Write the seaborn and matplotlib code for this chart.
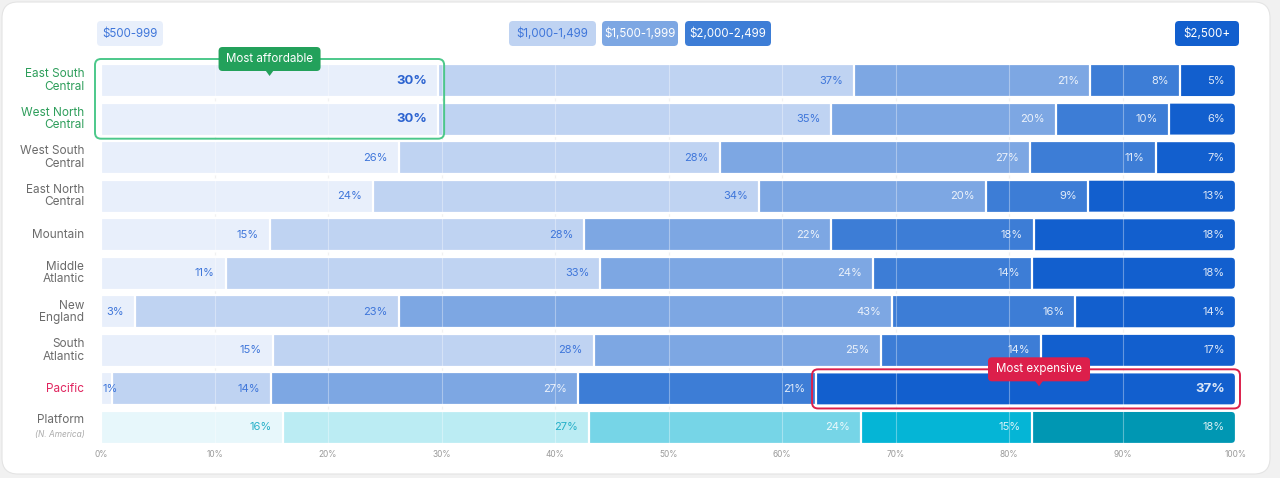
import numpy as np
import pandas as pd
import matplotlib.pyplot as plt
import seaborn as sns
from matplotlib.patches import FancyBboxPatch, Polygon
from matplotlib.transforms import IdentityTransform

sns.set_theme(style="white")
plt.rcParams['font.family'] = ['Inter', 'DejaVu Sans']

# ===== DATA =====
regions = ["East South\nCentral", "West North\nCentral", "West South\nCentral",
           "East North\nCentral", "Mountain", "Middle\nAtlantic", "New\nEngland",
           "South\nAtlantic", "Pacific", "Platform"]
brackets = ["$500-999", "$1,000-1,499", "$1,500-1,999", "$2,000-2,499", "$2,500+"]
share_500 = [30, 30, 26, 24, 15, 11, 3, 15, 1, 16]
share_1000 = [37, 35, 28, 34, 28, 33, 23, 28, 14, 27]
share_1500 = [21, 20, 27, 20, 22, 24, 43, 25, 27, 24]
share_2000 = [8, 10, 11, 9, 18, 14, 16, 14, 21, 15]
share_2500 = [5, 6, 7, 13, 18, 18, 14, 17, 37, 18]
x_ticks = [0, 10, 20, 30, 40, 50, 60, 70, 80, 90, 100]

# ===== STYLE =====
W, H = 1280, 478
blues = ["#E8EFFB", "#BFD3F2", "#7DA7E3", "#3D7DD6", "#125FCE"]
teals = ["#E7F7FB", "#BBECF3", "#76D5E7", "#05B5D6", "#0097B3"]
green_edge, green, red = "#4CC88A", "#23A15B", "#DC1F4B"

df = pd.DataFrame({"region": regions, "s0": share_500, "s1": share_1000,
                   "s2": share_1500, "s3": share_2000, "s4": share_2500})
cols = ["s0", "s1", "s2", "s3", "s4"]
norm = df[cols].div(df[cols].sum(axis=1), axis=0) * 100
cum = norm.cumsum(axis=1)
for k, c in enumerate(cols):
    df["c%d" % k] = cum[c]

fig = plt.figure(figsize=(W / 100, H / 100), dpi=100)
fig.patch.set_facecolor("#F1F1F1")
card = FancyBboxPatch((2, 4), 1268, 472, boxstyle="round,pad=0,rounding_size=16",
                      transform=IdentityTransform(), facecolor="white",
                      edgecolor="#E4E4E4", linewidth=0.8, zorder=-1)
fig.patches.append(card)

ax_h = 380
ax = fig.add_axes([101 / W, 34 / H, 1135 / W, ax_h / H])
ax.set_facecolor("none")

# background grid (visible in the gaps)
for xv in x_ticks[1:-1]:
    ax.axvline(xv, color="#EBEBEB", lw=0.8, zorder=0)

# stacked bars: draw cumulative layers from the outermost inward
for k in reversed(range(5)):
    pal = [teals[k] if r == "Platform" else blues[k] for r in regions]
    sns.barplot(data=df, x="c%d" % k, y="region", hue="region", palette=pal,
                saturation=1, legend=False, width=0.86, edgecolor="white",
                linewidth=1.6, errorbar=None, ax=ax, zorder=2)
    if k == 4:
        # round the right end of each full bar (left end is hidden by inner layers)
        for patch in list(ax.patches):
            x, y = patch.get_x(), patch.get_y()
            w, h = patch.get_width(), patch.get_height()
            patch.set_visible(False)
            ax.add_patch(FancyBboxPatch((x, y), w, h,
                                        boxstyle="round,pad=0,rounding_size=0.42",
                                        mutation_aspect=(1135 / 100) / (ax_h / 9.86),
                                        facecolor=patch.get_facecolor(),
                                        edgecolor="white", linewidth=1.6, zorder=2))

# grid over bars
for xv in x_ticks[1:-1]:
    ax.axvline(xv, color="white", alpha=0.35, lw=0.8, zorder=4)

ax.set_xlim(0, 100)
ax.set_ylim(len(regions) - 0.57, -0.43)
ax.set_xticks(x_ticks)
ax.set_xticklabels([f"{v}%" for v in x_ticks], fontsize=6, color="#9A9A9A")
ax.tick_params(axis="x", length=0, pad=4)
ax.set_yticks([])
ax.set_xlabel("")
ax.set_ylabel("")
sns.despine(ax=ax, left=True, bottom=True)

# segment labels
bold_cells = [(0, 0), (1, 0), (8, 4)]
for i, r in enumerate(regions):
    for k, c in enumerate(cols):
        val = df.loc[i, c]
        end = df.loc[i, "c%d" % k]
        start = end - norm.loc[i, c]
        if k < 2:
            col = "#26B0C8" if r == "Platform" else "#3F76DA"
            alpha = 1
        else:
            col = "white"
            alpha = 0.85
        bold = (i, k) in bold_cells
        if bold and k == 0:
            col = "#2C63D0"
        if val < 3:
            xy, off, ha = (start, i), (1, 0), "left"
        else:
            xy, off, ha = (end, i), (-8, 0), "right"
        ax.annotate(f"{val}%", xy=xy, xytext=off, textcoords="offset points",
                    ha=ha, va="center", fontsize=9.5 if bold else 8,
                    fontweight="bold" if bold else "normal", color=col, alpha=alpha,
                    zorder=6)

# y labels
for i, r in enumerate(regions):
    col = "#6B6B6B"
    if i < 2:
        col = "#2E9E5B"
    elif r == "Pacific":
        col = "#E0245E"
    if r == "Platform":
        ax.annotate("Platform", xy=(0, i), xycoords=("axes fraction", "data"),
                    xytext=(-12, 5), textcoords="offset points", ha="right",
                    va="center", fontsize=8.5, color=col)
        ax.annotate("(N. America)", xy=(0, i), xycoords=("axes fraction", "data"),
                    xytext=(-12, -5), textcoords="offset points", ha="right",
                    va="center", fontsize=6, color="#ABABAB", style="italic")
    else:
        ax.annotate(r, xy=(0, i), xycoords=("axes fraction", "data"),
                    xytext=(-12, 0), textcoords="offset points", ha="right",
                    va="center", fontsize=8.5, color=col, linespacing=1.05,
                    multialignment="right")

# legend pills along the top
pill_x = [(97, 163), (509, 596), (602, 678), (685, 771), (1175, 1239)]
pill_text = ["#3F76DA", "#3F76DA", "white", "white", "white"]
for (x0, x1), lab, fc, tc in zip(pill_x, brackets, blues, pill_text):
    y0 = H - 46
    fig.patches.append(FancyBboxPatch((x0, y0), x1 - x0, 25,
                                      boxstyle="round,pad=0,rounding_size=4",
                                      transform=IdentityTransform(), facecolor=fc,
                                      edgecolor="none", zorder=2))
    fig.text((x0 + x1) / 2 / W, (y0 + 12.5) / H, lab, ha="center", va="center",
             fontsize=8.3, color=tc, parse_math=False)


def callout(x0, x1, y_top, y_bot, edge, fill, tag, tag_cx):
    # x/y in display pixels (origin bottom-left)
    fig.patches.append(FancyBboxPatch((x0, y_bot), x1 - x0, y_top - y_bot,
                                      boxstyle="round,pad=0,rounding_size=6",
                                      transform=IdentityTransform(), facecolor="none",
                                      edgecolor=edge, linewidth=1.4, zorder=5))
    tw, th = 102, 24
    fig.patches.append(FancyBboxPatch((tag_cx - tw / 2, y_top - th / 2), tw, th,
                                      boxstyle="round,pad=0,rounding_size=4",
                                      transform=IdentityTransform(), facecolor=fill,
                                      edgecolor="none", zorder=6))
    ty = y_top - th / 2
    fig.patches.append(Polygon([(tag_cx - 4, ty + 0.5), (tag_cx + 4, ty + 0.5),
                                (tag_cx, ty - 5)], closed=True,
                               transform=IdentityTransform(), facecolor=fill,
                               edgecolor="none", zorder=6))
    fig.text(tag_cx / W, y_top / H, tag, ha="center", va="center", fontsize=8.3,
             color="white", zorder=7)


T = ax.transData
half = 0.43
# most affordable: first segment of the top two rows
g_end = max(df.loc[0, "c0"], df.loc[1, "c0"])
gx0, gy0 = T.transform((0, -half))
gx1, gy1 = T.transform((g_end, 1 + half))
callout(gx0 - 6, gx1 + 6, gy0 + 5, gy1 - 3, green_edge, green, "Most affordable",
        (gx0 + gx1) / 2)
# most expensive: Pacific top bracket
p = regions.index("Pacific")
rx0, ry0 = T.transform((df.loc[p, "c3"], p - half))
rx1, ry1 = T.transform((100, p + half))
callout(rx0 - 4, rx1 + 4, ry0 + 3, ry1 - 3, red, red, "Most expensive",
        (rx0 + rx1) / 2 + 13)

plt.savefig("out.png", dpi=100)
plt.close()
